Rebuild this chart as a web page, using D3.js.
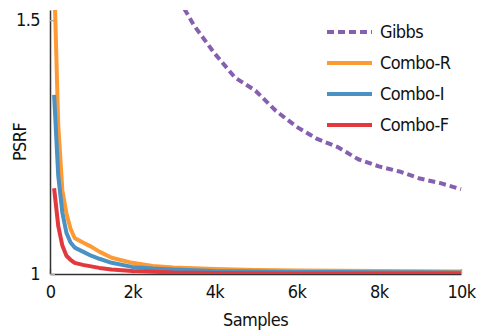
<!DOCTYPE html>
<html>
<head>
<meta charset="utf-8">
<script src="https://cdn.jsdelivr.net/npm/d3@7"></script>
<style>
  body { margin: 0; background: #fff; }
  svg text { font-family: "DejaVu Sans Condensed", "DejaVu Sans", sans-serif; font-stretch: condensed; letter-spacing: -0.6px; fill: #111; }
</style>
</head>
<body>
<div id="chart"></div>
<script>
// x positions (samples) for the combo runs
const comboSamples = [100, 200, 300, 400, 500, 600, 800, 1000, 1200, 1500, 2000, 2500, 3000, 4000, 5000, 6000, 7000, 8000, 9000, 10000];
const comboR = [1.59, 1.294, 1.165, 1.119, 1.089, 1.071, 1.062, 1.054, 1.044, 1.032, 1.022, 1.016, 1.013, 1.010, 1.008, 1.007, 1.0065, 1.006, 1.0055, 1.005];
const comboI = [1.353, 1.194, 1.121, 1.081, 1.062, 1.052, 1.044, 1.036, 1.030, 1.022, 1.014, 1.011, 1.009, 1.006, 1.005, 1.004, 1.004, 1.0035, 1.0035, 1.003];
const comboF = [1.169, 1.095, 1.056, 1.036, 1.028, 1.022, 1.018, 1.015, 1.012, 1.009, 1.006, 1.0045, 1.003, 1.002, 1.0015, 1.001, 1.001, 1.001, 1.001, 1.001];

const gibbsSamples = [3000, 3500, 4000, 4500, 5000, 5500, 6000, 6500, 7000, 7500, 8000, 8500, 9000, 9500, 10000];
const gibbs = [1.56, 1.49, 1.435, 1.387, 1.361, 1.321, 1.290, 1.266, 1.250, 1.226, 1.212, 1.202, 1.188, 1.179, 1.167];

const xTicks = [0, 2000, 4000, 6000, 8000, 10000];
const xTickLabels = ['0', '2k', '4k', '6k', '8k', '10k'];
const yTicks = [1, 1.5];
const yTickLabels = ['1', '1.5'];

const seriesNames = ['Gibbs', 'Combo-R', 'Combo-I', 'Combo-F'];
const seriesColors = ['#8660b0', '#fd9a33', '#4a91c4', '#e2393e'];

const width = 477, height = 334;
const margin = { top: 10, right: 16, bottom: 60, left: 50 };

const svg = d3.select('#chart').append('svg')
  .attr('width', width)
  .attr('height', height);

const x = d3.scaleLinear().domain([0, 10000]).range([margin.left, width - margin.right]);
const y = d3.scaleLinear().domain([1, 1.52]).range([height - margin.bottom, margin.top]);

svg.append('defs').append('clipPath').attr('id', 'plot')
  .append('rect')
  .attr('x', margin.left)
  .attr('y', margin.top)
  .attr('width', width - margin.left - margin.right + 4)
  .attr('height', height - margin.top - margin.bottom);

// axes
const xAxis = svg.append('g')
  .attr('transform', `translate(0,${y(1)})`)
  .call(d3.axisBottom(x).tickValues(xTicks).tickFormat((d, i) => xTickLabels[i]).tickSizeInner(-5).tickSizeOuter(0).tickPadding(11));
const yAxis = svg.append('g')
  .attr('transform', `translate(${margin.left},0)`)
  .call(d3.axisLeft(y).tickValues(yTicks).tickFormat((d, i) => yTickLabels[i]).tickSizeInner(-5).tickSizeOuter(0).tickPadding(10));

[xAxis, yAxis].forEach(g => {
  g.select('.domain').attr('stroke', '#333').attr('stroke-width', 1.5);
  g.selectAll('.tick line').attr('stroke', '#aaa').attr('stroke-width', 1.5);
  g.selectAll('.tick text').attr('font-size', 18).attr('fill', '#111')
    .attr('font-family', null);
});

svg.append('text')
  .attr('x', (x(0) + x(10000)) / 2)
  .attr('y', 326)
  .attr('text-anchor', 'middle')
  .attr('font-size', 18)
  .text('Samples');

svg.append('text')
  .attr('transform', `translate(26,${(y(1) + y(1.52)) / 2}) rotate(-90)`)
  .attr('text-anchor', 'middle')
  .attr('font-size', 18)
  .text('PSRF');

// lines
const line = d3.line()
  .x(d => x(d[0]))
  .y(d => y(d[1]));

const plot = svg.append('g').attr('clip-path', 'url(#plot)');

const series = [
  { name: 'Combo-R', xs: comboSamples, ys: comboR },
  { name: 'Combo-I', xs: comboSamples, ys: comboI },
  { name: 'Combo-F', xs: comboSamples, ys: comboF },
  { name: 'Gibbs', xs: gibbsSamples, ys: gibbs }
];

series.forEach(s => {
  const color = seriesColors[seriesNames.indexOf(s.name)];
  plot.append('path')
    .datum(s.xs.map((v, i) => [v, s.ys[i]]))
    .attr('d', line)
    .attr('fill', 'none')
    .attr('stroke', color)
    .attr('stroke-width', 4)
    .attr('stroke-linejoin', 'round')
    .attr('stroke-dasharray', s.name === 'Gibbs' ? '7,4' : null);
});

// legend
const legend = svg.append('g').attr('transform', 'translate(327,32)');
seriesNames.forEach((name, i) => {
  const row = legend.append('g').attr('transform', `translate(0,${i * 31})`);
  row.append('line')
    .attr('x1', 0).attr('x2', 45)
    .attr('stroke', seriesColors[i])
    .attr('stroke-width', 4)
    .attr('stroke-dasharray', name === 'Gibbs' ? '7,4' : null);
  row.append('text')
    .attr('x', 53)
    .attr('dy', '0.35em')
    .attr('font-size', 18)
    .text(name);
});
</script>
</body>
</html>
